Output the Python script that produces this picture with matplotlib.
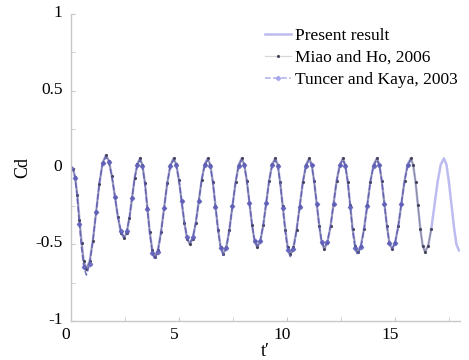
import matplotlib
matplotlib.use("Agg")
import matplotlib.pyplot as plt
import matplotlib.transforms as mtransforms
from matplotlib.ticker import MultipleLocator

# drag coefficient history of the present computation, one row per half cycle
t_present = [0.00, 0.10, 0.20, 0.30, 0.40, 0.50, 0.60, 0.72,
             0.87, 1.02, 1.17, 1.32, 1.47, 1.62,
             1.76, 1.90, 2.04, 2.18, 2.32, 2.46,
             2.58, 2.71, 2.83, 2.95, 3.08, 3.20,
             3.31, 3.43, 3.54, 3.65, 3.77, 3.88,
             4.025, 4.17, 4.315, 4.46, 4.605, 4.75,
             4.875, 5.00, 5.125, 5.25, 5.375, 5.50,
             5.64, 5.78, 5.915, 6.05, 6.19, 6.33,
             6.45, 6.57, 6.69, 6.81, 6.93, 7.05,
             7.19, 7.33, 7.475, 7.62, 7.76, 7.90,
             8.02, 8.14, 8.26, 8.38, 8.50, 8.62,
             8.76, 8.90, 9.035, 9.17, 9.31, 9.45,
             9.57, 9.68, 9.80, 9.92, 10.03, 10.15,
             10.295, 10.44, 10.585, 10.73, 10.875, 11.02,
             11.14, 11.25, 11.37, 11.49, 11.60, 11.72,
             11.86, 12.01, 12.15, 12.29, 12.44, 12.58,
             12.69, 12.81, 12.92, 13.03, 13.15, 13.26,
             13.41, 13.56, 13.705, 13.85, 14.00, 14.15,
             14.27, 14.38, 14.50, 14.62, 14.73, 14.85,
             14.995, 15.14, 15.285, 15.43, 15.575, 15.72,
             15.83, 15.94, 16.05, 16.16, 16.27, 16.38,
             16.525, 16.67, 16.815, 16.96, 17.105, 17.25,
             17.37, 17.48, 17.60, 17.72, 17.83, 17.95]
cd_present = [0.00, -0.01, -0.06, -0.18, -0.34, -0.49, -0.61, -0.66,
              -0.61, -0.475, -0.29, -0.105, 0.03, 0.08,
              0.044, -0.055, -0.19, -0.325, -0.424, -0.46,
              -0.425, -0.33, -0.20, -0.07, 0.025, 0.06,
              0.017, -0.10, -0.26, -0.42, -0.537, -0.58,
              -0.537, -0.42, -0.26, -0.10, 0.017, 0.06,
              0.022, -0.08, -0.22, -0.36, -0.462, -0.50,
              -0.462, -0.36, -0.22, -0.08, 0.022, 0.06,
              0.018, -0.095, -0.25, -0.405, -0.518, -0.56,
              -0.518, -0.405, -0.25, -0.095, 0.018, 0.06,
              0.021, -0.085, -0.23, -0.375, -0.481, -0.52,
              -0.481, -0.375, -0.23, -0.085, 0.021, 0.06,
              0.018, -0.095, -0.25, -0.405, -0.518, -0.56,
              -0.518, -0.405, -0.25, -0.095, 0.018, 0.06,
              0.02, -0.088, -0.235, -0.383, -0.49, -0.53,
              -0.49, -0.383, -0.235, -0.088, 0.02, 0.06,
              0.019, -0.093, -0.245, -0.398, -0.509, -0.55,
              -0.509, -0.398, -0.245, -0.093, 0.019, 0.06,
              0.02, -0.088, -0.235, -0.383, -0.49, -0.53,
              -0.49, -0.383, -0.235, -0.088, 0.02, 0.06,
              0.019, -0.093, -0.245, -0.398, -0.509, -0.55,
              -0.509, -0.398, -0.245, -0.093, 0.019, 0.06,
              0.02, -0.09, -0.24, -0.39, -0.50, -0.54]

# Miao and Ho (2006) lies on the present curve up to t' = 16.67
t_miao = t_present[:130]
cd_miao = cd_present[:130]

# Tuncer and Kaya (2003), same sampling up to t' = 15.72, slightly deeper troughs
t_tuncer = t_present[:122]
cd_tuncer = [0.00, -0.01, -0.07, -0.20, -0.37, -0.53, -0.65, -0.70,
             -0.63, -0.48, -0.29, -0.10, 0.03, 0.07,
             0.035, -0.06, -0.19, -0.32, -0.415, -0.45,
             -0.415, -0.325, -0.195, -0.07, 0.02, 0.05,
             0.01, -0.11, -0.27, -0.43, -0.555, -0.60,
             -0.55, -0.43, -0.265, -0.10, 0.012, 0.05,
             0.015, -0.085, -0.22, -0.355, -0.455, -0.49,
             -0.455, -0.355, -0.22, -0.08, 0.015, 0.05,
             0.012, -0.10, -0.255, -0.41, -0.527, -0.57,
             -0.525, -0.41, -0.25, -0.095, 0.012, 0.05,
             0.015, -0.09, -0.23, -0.372, -0.475, -0.51,
             -0.475, -0.372, -0.23, -0.085, 0.015, 0.05,
             0.012, -0.10, -0.26, -0.42, -0.537, -0.58,
             -0.53, -0.41, -0.255, -0.095, 0.012, 0.05,
             0.014, -0.09, -0.235, -0.38, -0.482, -0.52,
             -0.482, -0.38, -0.235, -0.088, 0.014, 0.05,
             0.012, -0.10, -0.255, -0.41, -0.527, -0.57,
             -0.52, -0.405, -0.25, -0.093, 0.012, 0.05,
             0.014, -0.09, -0.235, -0.385, -0.49, -0.53,
             -0.49, -0.383, -0.235, -0.088, 0.014, 0.05]

plt.rcParams['font.family'] = ['Liberation Serif', 'DejaVu Serif']

fig = plt.figure(figsize=(4.69, 3.6), dpi=100)
ax = fig.add_axes([0.151, 0.108, 0.830, 0.853])

ax.plot(t_present, cd_present, color='#bcbcf0', lw=1.8, label='Present result')
ax.plot(t_miao, cd_miao, ls='-', lw=0.9, marker='.', ms=2.5, color='#8a8a98',
        mfc='#44445a', mec='#44445a', label='Miao and Ho, 2006')
ax.plot(t_tuncer, cd_tuncer, ls='--', lw=1.1, color='#5c5cb4', marker='D',
        ms=2.2, markevery=2, mfc='#6262bc', mec='#6262bc', alpha=0.85,
        label='Tuncer and Kaya, 2003')

ax.set_xlim(0, 18)
ax.set_ylim(-1, 1)
ax.xaxis.set_major_locator(MultipleLocator(5))
ax.xaxis.set_minor_locator(MultipleLocator(2.5))
ax.yaxis.set_minor_locator(MultipleLocator(0.25))
ax.set_yticks([-1, -0.5, 0, 0.5, 1])
ax.set_yticklabels(['-1', '-0.5', '0', '0.5', '1'])

for s in ('top', 'right'):
    ax.spines[s].set_visible(False)
for s in ('left', 'bottom'):
    ax.spines[s].set_color('#c8c8c8')
    ax.spines[s].set_linewidth(1.0)
ax.tick_params(which='both', direction='in', color='#c8c8c8', length=3,
               labelcolor='black')
ax.tick_params(axis='x', labelsize=12.5, pad=4)
ax.tick_params(axis='y', labelsize=12.5, pad=6)

# tick labels sit a little off their ticks
xshift = mtransforms.ScaledTranslation(-5 / 100, 0, fig.dpi_scale_trans)
for lbl in ax.get_xticklabels():
    lbl.set_transform(lbl.get_transform() + xshift)
yshift = mtransforms.ScaledTranslation(0, 3 / 100, fig.dpi_scale_trans)
for lbl in ax.get_yticklabels():
    lbl.set_transform(lbl.get_transform() + yshift)

ax.set_xlabel('t\u2032', fontsize=13, labelpad=0)
ax.set_ylabel('Cd', fontsize=13, labelpad=3)

leg = ax.legend(loc='upper right', bbox_to_anchor=(1.02, 0.99), frameon=False,
                fontsize=12.5, handlelength=1.5, handletextpad=0.2,
                labelspacing=0.35, borderaxespad=0.2)
# the legend keys are drawn paler than the overlapping curves
leg.get_lines()[1].set_color('#d8d8dc')
leg.get_lines()[2].set_color('#a0a0ec')
leg.get_lines()[2].set_markerfacecolor('#a0a0ec')
leg.get_lines()[2].set_markeredgecolor('#a0a0ec')

fig.savefig('out.png', dpi=100)
